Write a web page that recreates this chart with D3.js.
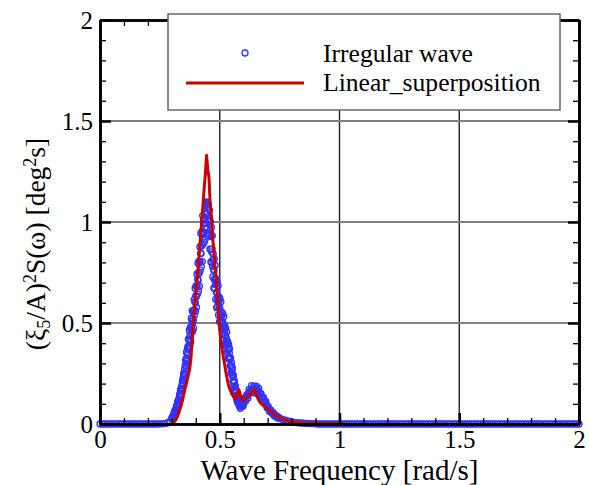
<!DOCTYPE html>
<html>
<head>
<meta charset="utf-8">
<script src="https://cdn.jsdelivr.net/npm/d3@7"></script>
<style>
  body { margin: 0; background: #fff; }
  svg text { font-family: "Liberation Serif", "Times New Roman", serif; fill: #000; }
</style>
</head>
<body>
<div id="chart"></div>
<script>
// axis ticks
const xTicks = [0, 0.5, 1, 1.5, 2];
const xMinor = [0.1, 0.2, 0.3, 0.4, 0.6, 0.7, 0.8, 0.9, 1.1, 1.2, 1.3, 1.4, 1.6, 1.7, 1.8, 1.9];
const yTicks = [0, 0.5, 1, 1.5, 2];
const yMinor = [0.1, 0.2, 0.3, 0.4, 0.6, 0.7, 0.8, 0.9, 1.1, 1.2, 1.3, 1.4, 1.6, 1.7, 1.8, 1.9];

const seriesNames = ['Irregular wave', 'Linear_superposition'];

// Irregular wave (circles)
const blueFreq = [
  0.00, 0.01, 0.02, 0.03, 0.04, 0.05, 0.06, 0.07, 0.08, 0.09, 0.10, 0.11, 0.12, 0.13, 0.14,
  0.15, 0.16, 0.17, 0.18, 0.19, 0.20, 0.21, 0.22, 0.23, 0.24, 0.25, 0.26, 0.27, 0.28, 0.29,
  0.300, 0.302, 0.304, 0.306, 0.308, 0.310, 0.312, 0.314, 0.316, 0.318,
  0.320, 0.322, 0.324, 0.326, 0.328, 0.330, 0.332, 0.334, 0.336, 0.338,
  0.340, 0.342, 0.344, 0.346, 0.348, 0.350, 0.352, 0.354, 0.356, 0.358,
  0.360, 0.362, 0.364, 0.366, 0.368, 0.370, 0.372, 0.374, 0.376, 0.378,
  0.380, 0.382, 0.384, 0.386, 0.388, 0.390, 0.392, 0.394, 0.396, 0.398,
  0.400, 0.402, 0.404, 0.406, 0.408, 0.410, 0.412, 0.414, 0.416, 0.418,
  0.420, 0.422, 0.424, 0.426, 0.428, 0.430, 0.432, 0.434, 0.436, 0.438,
  0.440, 0.442, 0.444, 0.446, 0.448, 0.450, 0.452, 0.454, 0.456, 0.458,
  0.460, 0.462, 0.464, 0.466, 0.468, 0.470, 0.472, 0.474, 0.476, 0.478,
  0.480, 0.482, 0.484, 0.486, 0.488, 0.490, 0.492, 0.494, 0.496, 0.498,
  0.500, 0.502, 0.504, 0.506, 0.508, 0.510, 0.512, 0.514, 0.516, 0.518,
  0.520, 0.522, 0.524, 0.526, 0.528, 0.530, 0.532, 0.534, 0.536, 0.538,
  0.540, 0.542, 0.544, 0.546, 0.548, 0.550, 0.552, 0.554, 0.556, 0.558,
  0.560, 0.562, 0.564, 0.566, 0.568, 0.570, 0.572, 0.574, 0.576, 0.578,
  0.580, 0.582, 0.584, 0.586, 0.588, 0.590, 0.592, 0.594, 0.596, 0.598,
  0.600,
  0.605, 0.610, 0.615, 0.620, 0.625, 0.630, 0.635, 0.640, 0.645, 0.650,
  0.655, 0.660, 0.665, 0.670, 0.675, 0.680, 0.685, 0.690, 0.695, 0.700,
  0.705, 0.710, 0.715, 0.720, 0.725, 0.730, 0.735, 0.740, 0.745, 0.750,
  0.76, 0.77, 0.78, 0.79, 0.80, 0.81, 0.82, 0.83, 0.84, 0.85, 0.86, 0.87, 0.88, 0.89, 0.90,
  0.91, 0.92, 0.93, 0.94, 0.95, 0.96, 0.97, 0.98, 0.99, 1.00, 1.01, 1.02, 1.03, 1.04, 1.05,
  1.06, 1.07, 1.08, 1.09, 1.10, 1.11, 1.12, 1.13, 1.14, 1.15, 1.16, 1.17, 1.18, 1.19, 1.20,
  1.21, 1.22, 1.23, 1.24, 1.25, 1.26, 1.27, 1.28, 1.29, 1.30, 1.31, 1.32, 1.33, 1.34, 1.35,
  1.36, 1.37, 1.38, 1.39, 1.40, 1.41, 1.42, 1.43, 1.44, 1.45, 1.46, 1.47, 1.48, 1.49, 1.50,
  1.51, 1.52, 1.53, 1.54, 1.55, 1.56, 1.57, 1.58, 1.59, 1.60, 1.61, 1.62, 1.63, 1.64, 1.65,
  1.66, 1.67, 1.68, 1.69, 1.70, 1.71, 1.72, 1.73, 1.74, 1.75, 1.76, 1.77, 1.78, 1.79, 1.80,
  1.81, 1.82, 1.83, 1.84, 1.85, 1.86, 1.87, 1.88, 1.89, 1.90, 1.91, 1.92, 1.93, 1.94, 1.95,
  1.96, 1.97, 1.98, 1.99, 2.00
];
const blueVal = [
  0, 0, 0, 0, 0, 0, 0, 0, 0, 0, 0, 0, 0, 0, 0,
  0, 0, 0, 0, 0, 0, 0, 0, 0, 0, 0.001, 0.001, 0.002, 0.005, 0.012,
  0.028, 0.026, 0.037, 0.034, 0.049, 0.047, 0.064, 0.055, 0.071, 0.062,
  0.090, 0.084, 0.110, 0.094, 0.117, 0.102, 0.142, 0.136, 0.165, 0.150,
  0.175, 0.164, 0.206, 0.202, 0.233, 0.220, 0.251, 0.244, 0.290, 0.290,
  0.325, 0.316, 0.347, 0.340, 0.386, 0.386, 0.421, 0.412, 0.443, 0.436,
  0.482, 0.478, 0.509, 0.496, 0.523, 0.512, 0.562, 0.566, 0.605, 0.600,
  0.635, 0.630, 0.678, 0.680, 0.717, 0.710, 0.747, 0.746, 0.798, 0.804,
  0.845, 0.844, 0.883, 0.884, 0.938, 0.946, 0.990, 0.950, 1.020, 0.970,
  1.080, 1.042, 1.094, 1.040, 1.086, 1.010, 1.076, 1.002, 1.018, 0.934,
  0.960, 0.864, 0.928, 0.852, 0.866, 0.780, 0.813, 0.766, 0.759, 0.714,
  0.722, 0.690, 0.693, 0.652, 0.651, 0.612, 0.630, 0.602, 0.609, 0.572,
  0.575, 0.540, 0.558, 0.530, 0.537, 0.500, 0.505, 0.472, 0.492, 0.466,
  0.475, 0.438, 0.441, 0.406, 0.424, 0.396, 0.403, 0.366, 0.369, 0.334,
  0.352, 0.322, 0.327, 0.288, 0.289, 0.252, 0.268, 0.238, 0.243, 0.204,
  0.205, 0.170, 0.188, 0.160, 0.167, 0.130, 0.138, 0.108, 0.131, 0.108,
  0.120, 0.091, 0.103, 0.078, 0.107, 0.091, 0.113, 0.091, 0.109, 0.089,
  0.122,
  0.118, 0.132, 0.138, 0.153, 0.158, 0.170, 0.168, 0.180, 0.172, 0.176,
  0.165, 0.166, 0.152, 0.148, 0.132, 0.128, 0.112, 0.108, 0.092, 0.088,
  0.074, 0.070, 0.059, 0.057, 0.047, 0.046, 0.037, 0.036, 0.029, 0.028,
  0.024, 0.020, 0.016, 0.013, 0.010, 0.008, 0.007, 0.006, 0.005, 0.004, 0.003, 0.003, 0.002, 0.002, 0.001,
  0, 0, 0, 0, 0, 0, 0, 0, 0, 0, 0, 0, 0, 0, 0,
  0, 0, 0, 0, 0, 0, 0, 0, 0, 0, 0, 0, 0, 0, 0,
  0, 0, 0, 0, 0, 0, 0, 0, 0, 0, 0, 0, 0, 0, 0,
  0, 0, 0, 0, 0, 0, 0, 0, 0, 0, 0, 0, 0, 0, 0,
  0, 0, 0, 0, 0, 0, 0, 0, 0, 0, 0, 0, 0, 0, 0,
  0, 0, 0, 0, 0, 0, 0, 0, 0, 0, 0, 0, 0, 0, 0,
  0, 0, 0, 0, 0, 0, 0, 0, 0, 0, 0, 0, 0, 0, 0,
  0, 0, 0, 0, 0
];

// Irregular wave, interleaved samples (the scatter around the peaks)
const blueFreq2 = [
  0.301, 0.303, 0.305, 0.307, 0.309, 0.311, 0.313, 0.315, 0.317, 0.319,
  0.321, 0.323, 0.325, 0.327, 0.329, 0.331, 0.333, 0.335, 0.337, 0.339,
  0.341, 0.343, 0.345, 0.347, 0.349, 0.351, 0.353, 0.355, 0.357, 0.359,
  0.361, 0.363, 0.365, 0.367, 0.369, 0.371, 0.373, 0.375, 0.377, 0.379,
  0.381, 0.383, 0.385, 0.387, 0.389, 0.391, 0.393, 0.395, 0.397, 0.399,
  0.401, 0.403, 0.405, 0.407, 0.409, 0.411, 0.413, 0.415, 0.417, 0.419,
  0.421, 0.423, 0.425, 0.427, 0.429, 0.431, 0.433, 0.435, 0.437, 0.439,
  0.441, 0.443, 0.445, 0.447, 0.449, 0.451, 0.453, 0.455, 0.457, 0.459,
  0.461, 0.463, 0.465, 0.467, 0.469, 0.471, 0.473, 0.475, 0.477, 0.479,
  0.481, 0.483, 0.485, 0.487, 0.489, 0.491, 0.493, 0.495, 0.497, 0.499,
  0.501, 0.503, 0.505, 0.507, 0.509, 0.511, 0.513, 0.515, 0.517, 0.519,
  0.521, 0.523, 0.525, 0.527, 0.529, 0.531, 0.533, 0.535, 0.537, 0.539,
  0.541, 0.543, 0.545, 0.547, 0.549, 0.551, 0.553, 0.555, 0.557, 0.559,
  0.561, 0.563, 0.565, 0.567, 0.569, 0.571, 0.573, 0.575, 0.577, 0.579,
  0.581, 0.583, 0.585, 0.587, 0.589, 0.591, 0.593, 0.595, 0.597, 0.599,
  0.6025, 0.6075, 0.6125, 0.6175, 0.6225, 0.6275, 0.6325, 0.6375, 0.6425, 0.6475,
  0.6525, 0.6575, 0.6625, 0.6675, 0.6725, 0.6775, 0.6825, 0.6875, 0.6925, 0.6975,
  0.7025, 0.7075, 0.7125, 0.7175, 0.7225, 0.7275, 0.7325, 0.7375, 0.7425, 0.7475
];
const blueVal2 = [
  0.031, 0.029, 0.040, 0.037, 0.052, 0.049, 0.066, 0.059, 0.076, 0.068,
  0.092, 0.086, 0.112, 0.097, 0.124, 0.110, 0.149, 0.135, 0.174, 0.149,
  0.188, 0.165, 0.220, 0.197, 0.251, 0.214, 0.272, 0.238, 0.315, 0.281,
  0.356, 0.301, 0.375, 0.322, 0.420, 0.370, 0.464, 0.387, 0.477, 0.407,
  0.524, 0.454, 0.560, 0.461, 0.561, 0.475, 0.616, 0.539, 0.672, 0.558,
  0.684, 0.578, 0.743, 0.644, 0.796, 0.658, 0.806, 0.682, 0.877, 0.762,
  0.943, 0.779, 0.952, 0.804, 1.032, 0.893, 1.010, 0.900, 1.050, 0.915,
  1.088, 0.993, 1.099, 0.970, 1.094, 0.931, 1.086, 0.939, 1.060, 0.866,
  1.003, 0.802, 0.974, 0.799, 0.933, 0.728, 0.842, 0.673, 0.817, 0.671,
  0.786, 0.617, 0.717, 0.576, 0.702, 0.580, 0.685, 0.540, 0.629, 0.507,
  0.620, 0.513, 0.605, 0.475, 0.552, 0.444, 0.545, 0.451, 0.532, 0.419,
  0.486, 0.389, 0.473, 0.389, 0.455, 0.355, 0.409, 0.326, 0.394, 0.322,
  0.373, 0.287, 0.326, 0.256, 0.305, 0.245, 0.279, 0.212, 0.236, 0.182,
  0.213, 0.169, 0.190, 0.142, 0.156, 0.121, 0.143, 0.114, 0.130, 0.098,
  0.110, 0.088, 0.107, 0.089, 0.106, 0.087, 0.107, 0.091, 0.117, 0.101,
  0.128, 0.113, 0.144, 0.128, 0.171, 0.153, 0.190, 0.157, 0.187, 0.153,
  0.187, 0.153, 0.177, 0.135, 0.150, 0.114, 0.132, 0.102, 0.112, 0.081,
  0.086, 0.063, 0.070, 0.054, 0.058, 0.041, 0.044, 0.033, 0.036, 0.028
];

// Linear superposition (line)
const redFreq = [
  0.300, 0.305, 0.310, 0.315, 0.320, 0.325, 0.330, 0.335, 0.340, 0.345, 0.350, 0.355,
  0.360, 0.365, 0.370, 0.375, 0.380, 0.385, 0.390, 0.395, 0.400, 0.405, 0.410, 0.415,
  0.420, 0.425, 0.430, 0.435, 0.440, 0.445, 0.450, 0.455, 0.460, 0.465, 0.470, 0.475,
  0.480, 0.485, 0.490, 0.495, 0.500, 0.505, 0.510, 0.515, 0.520, 0.525, 0.530, 0.535,
  0.540, 0.545, 0.550, 0.555, 0.560, 0.565, 0.570, 0.575, 0.580, 0.585, 0.590, 0.595,
  0.600, 0.605, 0.610, 0.615, 0.620, 0.625, 0.630, 0.635, 0.640, 0.645, 0.650, 0.655,
  0.660, 0.665, 0.670, 0.675, 0.680, 0.690, 0.700, 0.710, 0.720, 0.730, 0.740, 0.750,
  0.760, 0.770, 0.780, 0.790, 0.800, 0.820, 0.850, 0.900, 0.950, 1.000, 1.030
];
const redVal = [
  0.000, 0.004, 0.010, 0.018, 0.028, 0.042, 0.058, 0.078, 0.098, 0.120, 0.148, 0.175,
  0.198, 0.222, 0.248, 0.275, 0.330, 0.420, 0.520, 0.580, 0.640, 0.700, 0.780, 0.850,
  0.930, 1.010, 1.080, 1.170, 1.240, 1.330, 1.260, 1.220, 1.090, 1.030, 0.920, 0.870,
  0.780, 0.730, 0.630, 0.560, 0.470, 0.410, 0.370, 0.330, 0.300, 0.260, 0.230, 0.200,
  0.180, 0.165, 0.150, 0.140, 0.130, 0.125, 0.135, 0.155, 0.170, 0.150, 0.128, 0.118,
  0.115, 0.122, 0.132, 0.140, 0.145, 0.142, 0.150, 0.160, 0.165, 0.170, 0.152, 0.138,
  0.125, 0.112, 0.105, 0.100, 0.095, 0.085, 0.075, 0.065, 0.055, 0.046, 0.038, 0.032,
  0.026, 0.021, 0.017, 0.013, 0.011, 0.008, 0.006, 0.004, 0.002, 0.001, 0.000
];

const W = 589, H = 485;
const plot = { left: 100, right: 579, top: 20, bottom: 424 };
const blue = '#3333ff', red = '#cc0000';

const svg = d3.select('#chart').append('svg')
  .attr('width', W).attr('height', H);

const x = d3.scaleLinear().domain([0, 2]).range([plot.left, plot.right]);
const y = d3.scaleLinear().domain([0, 2]).range([plot.bottom, plot.top]);

// grid
svg.append('g').selectAll('line')
  .data(xTicks.slice(1, -1)).enter().append('line')
  .attr('x1', d => x(d)).attr('x2', d => x(d))
  .attr('y1', y(0)).attr('y2', y(2))
  .attr('stroke', '#222').attr('stroke-width', 1.4);
svg.append('g').selectAll('line')
  .data(yTicks.slice(1, -1)).enter().append('line')
  .attr('x1', x(0)).attr('x2', x(2))
  .attr('y1', d => y(d)).attr('y2', d => y(d))
  .attr('stroke', '#808080').attr('stroke-width', 2);

// data
const pts = blueFreq.map((f, i) => ({ f: f, v: blueVal[i] }))
  .concat(blueFreq2.map((f, i) => ({ f: f, v: blueVal2[i] })));
svg.append('g').selectAll('circle')
  .data(pts).enter().append('circle')
  .attr('cx', d => x(d.f)).attr('cy', d => y(d.v))
  .attr('r', 3)
  .attr('fill', 'none').attr('stroke', blue).attr('stroke-width', 1.3);

const line = d3.line().x(d => x(d.f)).y(d => y(d.v));
svg.append('path')
  .datum(redFreq.map((f, i) => ({ f: f, v: redVal[i] })))
  .attr('d', line)
  .attr('fill', 'none').attr('stroke', red).attr('stroke-width', 3)
  .attr('stroke-linejoin', 'round');

// axes
const fmt = d => String(d);
function styleAxis(g, w) {
  g.select('.domain').attr('stroke', '#000').attr('stroke-width', 2.7);
  g.selectAll('.tick line').attr('stroke', '#000').attr('stroke-width', w);
  g.selectAll('.tick text').style('font-size', '25px').style('font-family', '"Liberation Serif", serif');
}

svg.append('g').attr('transform', 'translate(0,' + plot.bottom + ')')
  .call(d3.axisBottom(x).tickValues(xMinor).tickSize(-6).tickSizeOuter(0).tickFormat(''))
  .call(g => styleAxis(g, 1.3));
svg.append('g').attr('transform', 'translate(0,' + plot.bottom + ')')
  .call(d3.axisBottom(x).tickValues(xTicks).tickSize(-11).tickSizeOuter(0).tickPadding(6).tickFormat(fmt))
  .call(g => styleAxis(g, 2.5));

svg.append('g').attr('transform', 'translate(0,' + plot.top + ')')
  .call(d3.axisTop(x).tickValues(xMinor).tickSize(-6).tickSizeOuter(0).tickFormat(''))
  .call(g => styleAxis(g, 1.3));
svg.append('g').attr('transform', 'translate(0,' + plot.top + ')')
  .call(d3.axisTop(x).tickValues(xTicks).tickSize(-11).tickSizeOuter(0).tickFormat(''))
  .call(g => styleAxis(g, 2.5));

svg.append('g').attr('transform', 'translate(' + plot.left + ',0)')
  .call(d3.axisLeft(y).tickValues(yMinor).tickSize(-6).tickSizeOuter(0).tickFormat(''))
  .call(g => styleAxis(g, 1.3));
svg.append('g').attr('transform', 'translate(' + plot.left + ',0)')
  .call(d3.axisLeft(y).tickValues(yTicks).tickSize(-11).tickSizeOuter(0).tickPadding(7).tickFormat(fmt))
  .call(g => styleAxis(g, 2.5));

svg.append('g').attr('transform', 'translate(' + plot.right + ',0)')
  .call(d3.axisRight(y).tickValues(yMinor).tickSize(-6).tickSizeOuter(0).tickFormat(''))
  .call(g => styleAxis(g, 1.3));
svg.append('g').attr('transform', 'translate(' + plot.right + ',0)')
  .call(d3.axisRight(y).tickValues(yTicks).tickSize(-11).tickSizeOuter(0).tickFormat(''))
  .call(g => styleAxis(g, 2.5));

// axis titles
svg.append('text')
  .attr('x', (plot.left + plot.right) / 2).attr('y', 480)
  .attr('text-anchor', 'middle')
  .style('font-size', '29px')
  .text('Wave Frequency [rad/s]');

const yt = svg.append('text')
  .attr('transform', 'translate(45,244) rotate(-90)')
  .attr('text-anchor', 'middle')
  .style('font-size', '27.5px');
yt.append('tspan').text('(ξ');
yt.append('tspan').attr('baseline-shift', '-25%').style('font-size', '18px').text('5');
yt.append('tspan').text('/A)');
yt.append('tspan').attr('baseline-shift', '50%').style('font-size', '18px').text('2');
yt.append('tspan').text('S(ω) [deg');
yt.append('tspan').attr('baseline-shift', '50%').style('font-size', '18px').text('2');
yt.append('tspan').text('s]');

// legend
const lg = svg.append('g');
lg.append('rect')
  .attr('x', 168).attr('y', 14).attr('width', 392).attr('height', 96)
  .attr('fill', '#fff').attr('stroke', '#666').attr('stroke-width', 1.5);
lg.append('circle')
  .attr('cx', 245).attr('cy', 53).attr('r', 3)
  .attr('fill', 'none').attr('stroke', blue).attr('stroke-width', 1.3);
lg.append('line')
  .attr('x1', 186).attr('x2', 304).attr('y1', 83).attr('y2', 83)
  .attr('stroke', red).attr('stroke-width', 3);
lg.selectAll('text.lab')
  .data(seriesNames).enter().append('text')
  .attr('class', 'lab')
  .attr('x', 323).attr('y', (d, i) => 62 + i * 29)
  .style('font-size', '25.6px')
  .text(d => d);
</script>
</body>
</html>
